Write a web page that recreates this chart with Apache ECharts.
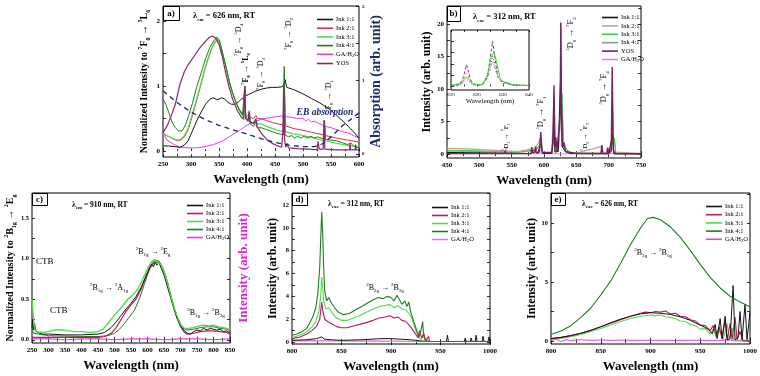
<!DOCTYPE html>
<html>
<head>
<meta charset="utf-8">
<script src="https://cdn.jsdelivr.net/npm/echarts@6/dist/echarts.min.js"></script>
<style>
html, body { margin: 0; padding: 0; background: #fff; }
#main { width: 760px; height: 376px; }
</style>
</head>
<body>
<div id="main"></div>
<script>
// ---- panel a : excitation, lambda_em = 626 nm ----
const aInk11 = [[250,0.08],[260,0.08],[270,0.07],[280,0.06],[288,0.09],[295,0.16],[302,0.3],[310,0.46],[318,0.6],[326,0.72],[334,0.8],[340,0.82],[346,0.79],[350,0.8],[355,0.82],[360,0.8],[366,0.75],[372,0.72],[378,0.72],[384,0.75],[390,0.8],[395,0.83],[396,1.0],[397.5,0.85],[405,0.88],[415,0.92],[425,0.95],[435,0.97],[445,0.98],[455,0.98],[463,0.99],[466,1.03],[468,1.1],[471,0.98],[485,0.94],[500,0.88],[515,0.81],[530,0.74],[545,0.66],[560,0.55],[575,0.43],[590,0.3],[600,0.2]];
const aInk21 = [[250,0.28],[256,0.24],[262,0.22],[268,0.19],[275,0.16],[282,0.17],[288,0.22],[294,0.31],[300,0.47],[306,0.65],[312,0.84],[318,1.03],[324,1.23],[330,1.4],[336,1.55],[342,1.66],[347,1.71],[351,1.67],[355,1.54],[360,1.37],[365,1.19],[370,1.01],[376,0.85],[382,0.71],[388,0.62],[394,0.56],[396,1.0],[397.5,0.57],[402,0.53],[404,0.62],[405.5,0.52],[412,0.5],[416,0.55],[418,0.5],[425,0.5],[435,0.47],[445,0.44],[455,0.42],[465,0.4],[467,0.9],[469,0.39],[482,0.35],[500,0.32],[520,0.28],[537,0.25],[538.5,0.42],[540,0.24],[560,0.2],[580,0.17],[600,0.14]];
const aInk31 = [[250,0.25],[256,0.24],[262,0.22],[268,0.19],[275,0.17],[282,0.18],[288,0.24],[294,0.33],[300,0.5],[306,0.68],[312,0.86],[318,1.05],[324,1.25],[330,1.42],[336,1.56],[342,1.67],[347,1.72],[351,1.68],[355,1.55],[360,1.38],[365,1.2],[370,1.02],[376,0.85],[382,0.7],[388,0.6],[394,0.52],[396,1.0],[397.5,0.52],[402,0.46],[404,0.56],[405.5,0.45],[412,0.43],[416,0.48],[418,0.42],[425,0.42],[435,0.38],[445,0.35],[455,0.32],[465,0.3],[466.5,1.2],[468,0.3],[482,0.27],[500,0.24],[520,0.2],[537,0.16],[538.5,0.4],[540,0.16],[560,0.12],[580,0.09],[600,0.06]];
const aInk41 = [[250,0.8],[255,0.72],[260,0.6],[266,0.45],[272,0.36],[278,0.31],[284,0.31],[290,0.4],[296,0.55],[303,0.75],[310,0.98],[318,1.2],[326,1.42],[334,1.6],[341,1.7],[346,1.75],[350,1.72],[354,1.6],[358,1.45],[363,1.28],[368,1.08],[374,0.9],[380,0.76],[386,0.64],[392,0.56],[394,0.55],[396,1.0],[397.5,0.55],[402,0.46],[404,0.55],[405.5,0.42],[412,0.38],[416,0.45],[418,0.36],[425,0.36],[435,0.33],[445,0.3],[455,0.27],[465,0.25],[466.5,1.3],[468,0.25],[474,0.22],[480,0.24],[485,0.2],[490,0.23],[496,0.2],[502,0.23],[508,0.2],[514,0.23],[520,0.2],[526,0.22],[532,0.2],[537,0.19],[538.5,0.48],[540,0.18],[550,0.17],[560,0.16],[570,0.13],[580,0.1],[585,0.13],[590,0.08],[600,0.05]];
const aGA = [[250,0.29],[257,0.17],[268,0.11],[280,0.06],[295,0.05],[310,0.05],[325,0.07],[340,0.1],[355,0.15],[370,0.23],[385,0.31],[400,0.4],[415,0.46],[430,0.5],[445,0.52],[460,0.54],[470,0.53],[480,0.52],[490,0.5],[500,0.5],[505,0.46],[510,0.49],[515,0.45],[520,0.46],[530,0.42],[540,0.38],[550,0.36],[560,0.33],[570,0.3],[580,0.28],[590,0.24],[600,0.2]];
const aYOS = [[250,0.28],[258,0.4],[265,0.55],[272,0.72],[280,1.02],[288,1.22],[295,1.33],[305,1.45],[315,1.58],[325,1.68],[333,1.75],[338,1.77],[344,1.74],[350,1.64],[356,1.45],[362,1.2],[368,0.98],[375,0.78],[383,0.62],[390,0.52],[394,0.49],[396,0.98],[397.5,0.5],[402,0.46],[404,0.6],[405.5,0.45],[412,0.42],[416,0.5],[418,0.38],[425,0.28],[435,0.18],[445,0.12],[455,0.08],[462,0.06],[464,0.3],[465.5,1.05],[467,0.2],[469,0.06],[472,0.12],[474,0.05],[490,0.04],[510,0.03],[525,0.02],[527,0.15],[529,0.03],[536,0.03],[537.5,0.48],[539,0.03],[560,0.02],[583,0.02],[584,0.12],[585,0.02],[593,0.02],[594,0.1],[595,0.02],[600,0.02]];
const aEB = [[250,0.86],[275,0.7],[300,0.57],[325,0.47],[350,0.39],[375,0.33],[400,0.27],[425,0.21],[450,0.16],[475,0.12],[500,0.1],[520,0.1],[535,0.14],[550,0.23],[570,0.38],[585,0.47],[600,0.56]];

// ---- panel b : emission, lambda_exc = 312 nm ----
const bInk11 = [[450,0.25],[500,0.2],[540,0.15],[560,0.1],[580,0.1],[585,0.6],[590,0.1],[593,0.1],[595,1.5],[598,0.1],[612,0.1],[615.5,4.5],[617,0.3],[622,0.4],[626,13],[628,1.2],[632,0.5],[640,0.1],[700,0.05],[706,3],[708,0.05],[750,0.05]];
const bInk21 = [[450,0.9],[480,0.8],[510,0.65],[540,0.5],[541,0.9],[542,0.5],[560,0.4],[581,0.8],[587,0.9],[595,2.5],[598,0.3],[612,0.3],[615.5,9],[617,1.0],[622,0.5],[625,5],[626,20.4],[627,6],[629,1.0],[632,1.5],[634,0.3],[650,0.15],[689.5,1.2],[691,0.12],[704,0.3],[706,7.7],[708,0.3],[750,0.1]];
const bInk31 = [[450,0.6],[480,0.55],[520,0.45],[560,0.3],[581,0.6],[587,0.7],[595,1.5],[598,0.25],[612,0.25],[615.5,3],[617,0.5],[622,0.5],[626,7],[628,9.3],[630,2],[632,1.2],[640,0.2],[700,0.1],[706,2],[709,2.5],[711,0.1],[750,0.05]];
const bInk41 = [[450,0.45],[480,0.42],[520,0.35],[540,0.3],[541,0.6],[542,0.3],[560,0.25],[581,0.5],[587,0.6],[595,1.3],[598,0.2],[612,0.2],[615.5,2.6],[617,0.4],[622,0.4],[626,6],[628,7],[630,1.8],[632,1],[640,0.15],[700,0.08],[706,1.8],[709,2.2],[711,0.08],[750,0.05]];
const bYOS = [[450,0.08],[530,0.08],[539,0.08],[540,0.5],[541,0.08],[580,0.1],[581,1.1],[582,0.2],[586,0.3],[587,1.2],[588,0.2],[593,0.3],[595,3.4],[597,0.2],[612,0.2],[614,2],[615.5,10.6],[617,1.0],[618.5,2.6],[620,0.4],[623,0.7],[625,6],[626,20.2],[627,8],[628.5,1.0],[631,1.8],[633,0.4],[650,0.1],[652,0.3],[654,0.1],[688,0.1],[689.5,1.4],[691,0.1],[697,0.1],[698.5,1.0],[700,0.1],[704,0.5],[705.5,13.4],[707,0.6],[710,0.1],[750,0.05]];
const bGA = [[450,0.1],[500,0.08],[550,0.06],[600,0.05],[650,0.05],[700,0.05],[750,0.04]];
// inset of b (normalised)
const inYOS = [[610,0.02],[613,0.03],[614.5,0.15],[616,0.48],[617.5,0.15],[619,0.03],[622,0.03],[624,0.2],[625,0.6],[626,1.0],[627,0.6],[628,0.2],[630,0.06],[631,0.08],[633,0.03],[640,0.02]];
const inInk31 = [[610,0.02],[614,0.06],[615,0.15],[616,0.21],[617,0.15],[618.5,0.04],[622,0.04],[624,0.25],[625.5,0.65],[626.5,0.77],[627.5,0.55],[629,0.15],[630.5,0.1],[632,0.08],[634,0.03],[640,0.02]];
const inInk11 = [[610,0.02],[614,0.05],[616,0.16],[618,0.05],[622,0.04],[624,0.2],[626,0.67],[628,0.25],[630,0.1],[632,0.06],[634,0.03],[640,0.02]];
const inInk21 = [[610,0.02],[614,0.08],[616,0.3],[618,0.06],[622,0.04],[624,0.18],[626,0.55],[628,0.2],[630,0.08],[634,0.03],[640,0.02]];

// ---- panel c : excitation, lambda_em = 910 nm ----
const cInk11 = [[250,0.15],[252,0.25],[254,0.12],[258,0.2],[262,0.1],[268,0.09],[280,0.07],[300,0.07],[350,0.06],[400,0.06],[450,0.07],[470,0.09],[490,0.15],[505,0.22],[520,0.3],[535,0.38],[550,0.45],[565,0.53],[580,0.64],[595,0.78],[605,0.88],[612,0.93],[618,0.9],[624,0.96],[628,0.92],[634,0.95],[642,0.88],[650,0.8],[660,0.66],[670,0.52],[680,0.38],[690,0.26],[700,0.17],[710,0.12],[720,0.08],[730,0.07],[740,0.1],[750,0.12],[760,0.11],[770,0.14],[780,0.12],[790,0.14],[800,0.13],[810,0.12],[820,0.13],[830,0.1],[840,0.11],[850,0.08]];
const cInk21 = [[250,0.03],[300,0.03],[400,0.03],[450,0.03],[470,0.04],[490,0.08],[505,0.15],[520,0.25],[535,0.35],[550,0.43],[565,0.5],[580,0.62],[595,0.78],[610,0.9],[620,0.95],[630,0.96],[640,0.92],[650,0.83],[660,0.7],[670,0.55],[680,0.4],[690,0.27],[700,0.17],[710,0.1],[720,0.07],[740,0.08],[760,0.1],[780,0.11],[800,0.11],[820,0.1],[840,0.09],[850,0.07]];
const cInk31 = [[250,0.5],[253,0.35],[256,0.2],[260,0.1],[265,0.08],[280,0.09],[300,0.1],[320,0.12],[340,0.12],[360,0.11],[380,0.1],[400,0.1],[430,0.09],[450,0.1],[465,0.13],[480,0.2],[495,0.28],[510,0.35],[525,0.42],[540,0.5],[555,0.55],[570,0.62],[585,0.74],[600,0.88],[612,0.96],[618,0.94],[622,0.99],[627,0.96],[632,0.98],[642,0.92],[652,0.82],[662,0.68],[672,0.52],[682,0.38],[692,0.27],[702,0.18],[712,0.14],[725,0.14],[740,0.15],[755,0.17],[770,0.18],[785,0.17],[800,0.18],[815,0.16],[830,0.15],[850,0.13]];
const cInk41 = [[250,0.12],[255,0.08],[260,0.06],[300,0.05],[400,0.04],[450,0.04],[480,0.05],[500,0.08],[515,0.13],[530,0.2],[545,0.28],[560,0.36],[575,0.5],[590,0.68],[605,0.86],[615,0.95],[625,0.98],[635,0.97],[645,0.9],[655,0.79],[665,0.64],[675,0.48],[685,0.34],[695,0.22],[705,0.15],[720,0.12],[740,0.13],[760,0.15],[780,0.16],[800,0.16],[820,0.14],[840,0.13],[850,0.11]];
const cGA = [[250,0.01],[300,0.01],[350,0.0],[400,0.01],[450,0.01],[500,0.0],[550,0.01],[600,0.01],[650,0.0],[700,0.01],[750,0.01],[800,0.0],[850,0.01]];

// ---- panel d : NIR emission, lambda_exc = 312 nm ----
const dInk11 = [[800,0.15],[815,0.2],[825,0.3],[830,0.45],[833,0.25],[840,0.2],[850,0.15],[870,0.2],[890,0.3],[900,0.3],[910,0.25],[920,0.2],[925,0.15],[930,0.1],[940,0.05],[956,0.05],[957,0.6],[958,0.05],[974,0.05],[975,0.35],[976,0.05],[980,0.05],[981,0.35],[982,0.05],[985,0.05],[986,0.6],[987,0.05],[992,0.05],[993,0.5],[994,0.05],[998,0.05],[999,0.45],[1000,0.05]];
const dInk21 = [[800,0.3],[808,0.45],[815,0.7],[820,1.0],[825,1.4],[828,2.0],[830,3.5],[831,2.8],[833,2.0],[836,1.8],[840,1.6],[845,1.35],[850,1.25],[856,1.25],[862,1.4],[868,1.55],[875,1.7],[882,1.9],[888,2.1],[894,2.2],[899,2.3],[903,2.1],[907,2.2],[911,1.9],[915,1.8],[918,1.5],[921,1.2],[924,0.8],[927,0.4],[929,1.0],[931,0.3],[933,0.8],[935,0.1],[938,0.5],[939,0.05],[1000,0.05]];
const dInk31 = [[800,0.4],[808,0.6],[815,0.9],[820,1.3],[824,1.8],[827,2.6],[829,4],[830,5.7],[831,4.8],[832,3.6],[834,2.9],[837,3.0],[840,2.6],[845,2.1],[850,1.9],[856,1.9],[862,2.1],[868,2.3],[875,2.6],[882,2.9],[888,3.1],[894,3.2],[899,3.3],[903,3.0],[907,3.2],[911,2.9],[915,2.8],[918,2.5],[921,2.1],[924,1.3],[927,0.6],[930,0.2],[933,0.1],[940,0.05],[1000,0.05]];
const dInk41 = [[800,0.6],[805,0.7],[810,0.9],[815,1.2],[818,1.7],[821,2.2],[824,3.0],[826,4.2],[828,6.5],[829,9],[830,11.4],[831,9.5],[832,6.5],[833,4.5],[835,3.6],[837,3.9],[840,3.4],[843,3.0],[847,2.6],[852,2.4],[858,2.5],[864,2.8],[870,3.1],[876,3.4],[882,3.7],[887,3.9],[892,3.8],[896,4.0],[900,3.9],[903,3.6],[906,4.1],[908,3.8],[911,3.3],[914,3.6],[916,3.1],[918,3.5],[920,2.6],[923,1.8],[926,1.0],[928,0.4],[930,0.9],[932,1.8],[933,0.5],[935,0.1],[940,0.05],[1000,0.05]];
const dGA = [[800,0.1],[820,0.12],[840,0.1],[860,0.08],[880,0.1],[900,0.08],[920,0.06],[940,0.05],[960,0.05],[980,0.06],[1000,0.05]];

// ---- panel e : NIR emission, lambda_exc = 626 nm ----
const eInk11 = [[800,0.2],[810,0.3],[820,0.45],[830,0.65],[840,0.9],[850,1.2],[860,1.55],[870,1.85],[880,2.1],[890,2.3],[900,2.4],[910,2.35],[920,2.25],[930,2.05],[940,1.75],[950,1.35],[958,1.0],[962,0.6],[965,1.4],[967,0.2],[970,1.9],[972,0.2],[975,2.1],[977,0.1],[980,0.2],[983,4.7],[985,0.1],[988,0.3],[990,2.5],[992,0.1],[995,3.1],[997,0.1],[1000,2.4]];
const eInk21 = [[800,0.2],[810,0.3],[820,0.45],[830,0.65],[840,0.9],[850,1.2],[860,1.5],[870,1.8],[880,2.1],[890,2.35],[895,2.45],[900,2.4],[905,2.5],[910,2.45],[915,2.55],[920,2.3],[925,2.35],[930,2.1],[935,2.05],[940,1.8],[945,1.7],[950,1.35],[955,1.3],[960,0.9],[963,1.3],[966,0.5],[969,1.2],[972,0.2],[975,1.8],[977,0.1],[980,1.5],[982,0.1],[985,2.0],[987,0.1],[990,0.8],[993,0],[1000,0]];
const eInk31 = [[800,0.15],[810,0.22],[820,0.35],[830,0.55],[840,0.8],[850,1.05],[860,1.35],[870,1.65],[880,1.9],[890,2.1],[900,2.2],[905,2.15],[910,2.2],[915,2.05],[920,2.0],[925,1.9],[930,1.7],[935,1.65],[940,1.4],[945,1.3],[950,1.0],[955,1.05],[960,0.6],[963,1.0],[966,0.3],[970,0.9],[973,0.1],[977,1.5],[979,0.1],[982,1.1],[984,0],[1000,0]];
const eInk41 = [[800,0.55],[810,0.85],[820,1.3],[830,2.0],[840,2.8],[850,3.9],[860,5.1],[870,6.6],[880,8.2],[890,9.6],[897,10.4],[903,10.5],[910,10.3],[920,9.7],[930,8.8],[940,7.7],[950,6.5],[960,5.4],[970,4.5],[980,3.8],[990,3.3],[1000,2.9]];
const eGA = [[800,0.05],[805,0.15],[810,-0.05],[815,0.1],[820,0.05],[830,0.1],[840,0.05],[850,0.08],[860,0.05],[870,0.07],[880,0.05],[900,0.06],[920,0.05],[940,0.06],[960,0.05],[980,0.06],[1000,0.05]];

const SERIF = '"Liberation Serif", "Times New Roman", serif';

function rich(size, o) {
  o = o || {};
  const col = o.color || '#000';
  const base = {fontFamily: SERIF, fontSize: size, fontWeight: o.weight || 'normal', fontStyle: o.style || 'normal',
    color: col, fill: col, lineHeight: Math.round(size * 1.4)};
  const small = Object.assign({}, base, {fontSize: Math.max(4, Math.round(size * 0.62)), lineHeight: Math.round(size * 0.7)});
  return {t: base, sup: Object.assign({}, small, {verticalAlign: 'top'}), sub: Object.assign({}, small, {verticalAlign: 'bottom'})};
}
function lev(sup, letter, sub) { return '{sup|' + sup + '}{t|' + letter + '}{sub|' + sub + '}'; }
function trans(a, b) { return a + '{t| → }' + b; }

const grid = [
  {left: 163, top: 6, width: 196, height: 151},
  {left: 447, top: 6, width: 194, height: 152},
  {left: 32, top: 193, width: 198, height: 150},
  {left: 292, top: 193, width: 198, height: 151},
  {left: 551, top: 193, width: 199, height: 151},
  {left: 451, top: 30, width: 78, height: 60}
].map(g => Object.assign(g, {show: true, borderColor: '#000', borderWidth: 1, backgroundColor: 'transparent'}));
grid[5].backgroundColor = '#fff';

const tickLine = {color: '#000', width: 0.8};
const plain = v => String(v);
const xAxis = [], yAxis = [];
function addX(gi, min, max, step, o) {
  o = o || {};
  xAxis.push({
    type: 'value', gridIndex: gi, min: min, max: max, interval: step, position: 'bottom',
    axisLine: {show: false}, splitLine: {show: false},
    axisTick: {inside: true, length: o.tl || 3, lineStyle: tickLine},
    minorTick: {show: true, splitNumber: 2, length: 2, lineStyle: tickLine},
    axisLabel: {color: '#000', fontFamily: SERIF, fontWeight: o.lw || 'bold', fontSize: o.fs || 7, margin: o.margin || 4, formatter: plain},
    name: o.name === undefined ? 'Wavelength (nm)' : o.name, nameLocation: 'middle', nameGap: o.gap || 16,
    nameTextStyle: {color: '#000', fontFamily: SERIF, fontWeight: o.nw || 'bold', fontSize: o.nfs || 13}
  });
  xAxis.push({
    type: 'value', gridIndex: gi, min: min, max: max, interval: step, position: 'top',
    axisLine: {show: false}, splitLine: {show: false},
    axisTick: {inside: true, length: o.tl || 3, lineStyle: tickLine},
    minorTick: {show: true, splitNumber: 2, length: 2, lineStyle: tickLine},
    axisLabel: {show: false}
  });
  return xAxis.length - 2;
}
function addY(gi, min, max, labels, ticks, o) {
  o = o || {};
  yAxis.push({
    type: 'value', gridIndex: gi, min: min, max: max, position: o.pos || 'left',
    axisLine: {show: false}, splitLine: {show: false},
    axisTick: {show: true, inside: true, length: 3, customValues: ticks, lineStyle: tickLine},
    axisLabel: labels ? {show: true, customValues: labels, formatter: o.fmt || plain, color: '#000', fontFamily: SERIF,
      fontWeight: 'bold', fontSize: o.fs || 7, margin: o.margin || 3} : {show: false},
    name: o.name || '', nameLocation: 'middle', nameGap: o.gap || 10, nameRotate: 90,
    nameTextStyle: o.nts || {}
  });
  return yAxis.length - 1;
}

// axes
const xa = addX(0, 250, 600, 50);
const xb = addX(1, 450, 750, 50);
const xc = addX(2, 250, 850, 50);
const xd = addX(3, 800, 1000, 50);
const xe = addX(4, 800, 1000, 50);
const xi = addX(5, 610, 640, 10, {fs: 5, lw: 'normal', margin: 2, name: 'Wavelength (nm)', gap: 7, nfs: 7, nw: 'normal', tl: 2});

const yaL = addY(0, -0.09, 2.23, [0, 1, 2], [0, 0.5, 1, 1.5, 2], {
  name: '{t|Normalized Intensity to }' + trans(lev('7', 'F', '0'), lev('5', 'L', '6')), gap: 12,
  nts: {rich: rich(10, {weight: 'bold'})}});
const yaR = addY(0, -0.04, 2.01, [0, 1, 2], [0, 0.5, 1, 1.5, 2], {pos: 'right', fs: 5, margin: 3,
  name: 'Absorption (arb. unit)', gap: 10,
  nts: {color: '#1c2a6e', fontFamily: SERIF, fontWeight: 'bold', fontSize: 14}});
const ybL = addY(1, -0.6, 22.8, [0, 5, 10, 15, 20], [0, 2.5, 5, 7.5, 10, 12.5, 15, 17.5, 20, 22.5], {
  name: 'Intensity (arb. unit)', gap: 12, nts: {color: '#000', fontFamily: SERIF, fontWeight: 'bold', fontSize: 12}});
const ybR = addY(1, -0.6, 22.8, null, [0, 2.5, 5, 7.5, 10, 12.5, 15, 17.5, 20, 22.5], {pos: 'right'});
const ycL = addY(2, -0.04, 1.81, [0, 0.5, 1, 1.5], [0, 0.25, 0.5, 0.75, 1, 1.25, 1.5, 1.75], {
  fmt: v => v.toFixed(1), fs: 6.5,
  name: '{t|Normalized Intensity to }' + trans(lev('2', 'B', '1g'), lev('2', 'E', 'g')), gap: 14,
  nts: {rich: rich(10, {weight: 'bold'})}});
const ycR = addY(2, -0.04, 1.81, null, [0, 0.25, 0.5, 0.75, 1, 1.25, 1.5, 1.75], {pos: 'right',
  name: 'Intensity (arb. unit)', gap: 7, nts: {color: '#e020d8', fontFamily: SERIF, fontWeight: 'bold', fontSize: 13}});
const ydL = addY(3, -0.17, 13.05, [0, 2, 4, 6, 8, 10, 12], [0, 1, 2, 3, 4, 5, 6, 7, 8, 9, 10, 11, 12, 13], {
  fs: 6.5, name: 'Intensity (arb. unit)', gap: 9, nts: {color: '#000', fontFamily: SERIF, fontWeight: 'bold', fontSize: 12}});
const ydR = addY(3, -0.17, 13.05, null, [0, 1, 2, 3, 4, 5, 6, 7, 8, 9, 10, 11, 12, 13], {pos: 'right'});
const yeL = addY(4, -0.26, 12.57, [0, 5, 10], [0, 2.5, 5, 7.5, 10, 12.5], {
  fs: 6.5, name: 'Intensity (arb. unit)', gap: 8, nts: {color: '#000', fontFamily: SERIF, fontWeight: 'bold', fontSize: 12}});
const yeR = addY(4, -0.26, 12.57, null, [0, 2.5, 5, 7.5, 10, 12.5], {pos: 'right'});
const yiL = addY(5, -0.08, 1.25, null, [0, 0.25, 0.5, 0.75, 1]);

// series
const series = [];
function ln(name, data, x, y, color, width, type, z) {
  series.push({
    type: 'line', name: name, data: data, xAxisIndex: x, yAxisIndex: y,
    symbol: 'none', showSymbol: false, animation: false, silent: true,
    lineStyle: {color: color, width: width || 1, type: type || 'solid'},
    itemStyle: {color: color}, z: z || 2
  });
}
const K = '#151515', RED = '#d2364c', LG = '#4fdc4f', DG = '#1f7d1f', MAG = '#e83ce0', PUR = '#852a6e';

ln('a|GA/H2O', aGA, xa, yaL, MAG, 1);
ln('a|Ink 1:1', aInk11, xa, yaL, K, 1);
ln('a|Ink 2:1', aInk21, xa, yaL, RED, 1);
ln('a|Ink 3:1', aInk31, xa, yaL, LG, 1.2);
ln('a|Ink 4:1', aInk41, xa, yaL, DG, 1);
ln('a|YOS', aYOS, xa, yaL, PUR, 1.2);
ln('EB absorption', aEB, xa, yaR, '#1c2a6e', 1.3, [5, 4]);

ln('b|GA/H2O', bGA, xb, ybL, '#e47fdc', 1);
ln('b|Ink 4:1', bInk41, xb, ybL, '#7aa87a', 1);
ln('b|Ink 3:1', bInk31, xb, ybL, '#3ecf3e', 1);
ln('b|Ink 2:1', bInk21, xb, ybL, '#c4a09a', 1.2);
ln('b|Ink 1:1', bInk11, xb, ybL, K, 1);
ln('b|YOS', bYOS, xb, ybL, '#7b1f5e', 1.4);
ln('in YOS', inYOS, xi, yiL, '#8a3a7a', 1, [3, 2], 5);
ln('in Ink 2:1', inInk21, xi, yiL, '#c4a09a', 1, [3, 2], 5);
ln('in Ink 1:1', inInk11, xi, yiL, '#333', 0.8, [1, 2], 5);
ln('in Ink 3:1', inInk31, xi, yiL, '#3ecf3e', 1, 'solid', 5);

const C21 = '#c2185b';
ln('c|GA/H2O', cGA, xc, ycL, MAG, 1.2);
ln('c|Ink 4:1', cInk41, xc, ycL, DG, 1);
ln('c|Ink 2:1', cInk21, xc, ycL, C21, 1.2);
ln('c|Ink 1:1', cInk11, xc, ycL, K, 1);
ln('c|Ink 3:1', cInk31, xc, ycL, LG, 1.4);

ln('d|GA/H2O', dGA, xd, ydL, '#e07ad8', 1.2);
ln('d|Ink 1:1', dInk11, xd, ydL, K, 1);
ln('d|Ink 2:1', dInk21, xd, ydL, C21, 1.1);
ln('d|Ink 3:1', dInk31, xd, ydL, LG, 1.1);
ln('d|Ink 4:1', dInk41, xd, ydL, DG, 1.1);

ln('e|GA/H2O', eGA, xe, yeL, MAG, 1);
ln('e|Ink 3:1', eInk31, xe, yeL, LG, 1.1);
ln('e|Ink 2:1', eInk21, xe, yeL, C21, 1.1);
ln('e|Ink 1:1', eInk11, xe, yeL, K, 1);
ln('e|Ink 4:1', eInk41, xe, yeL, DG, 1.1);

// legends (plain line keys)
const legRich = {
  t: {fontFamily: SERIF, fontSize: 6.5, color: '#000', lineHeight: 8},
  s: {fontFamily: SERIF, fontSize: 4.5, color: '#000', lineHeight: 5, verticalAlign: 'bottom'}
};
function legFmt(n) {
  const s = n.slice(2);
  return s === 'GA/H2O' ? '{t|GA/H}{s|2}{t|O}' : '{t|' + s + '}';
}
function leg(p, names, left, top, gap) {
  return {
    orient: 'vertical', left: left, top: top, icon: 'rect', itemWidth: 16, itemHeight: 1.6, itemGap: gap,
    selectedMode: false, data: names.map(n => p + '|' + n), formatter: legFmt,
    textStyle: {rich: legRich, padding: [0, 0, 0, -2]}
  };
}
const six1 = ['Ink 1:1', 'Ink 2:1', 'Ink 3:1', 'Ink 4:1', 'GA/H2O', 'YOS'];
const six2 = ['Ink 1:1', 'Ink 2:1', 'Ink 3:1', 'Ink 4:1', 'YOS', 'GA/H2O'];
const five = ['Ink 1:1', 'Ink 2:1', 'Ink 3:1', 'Ink 4:1', 'GA/H2O'];
const legend = [
  leg('a', six1, 312, 11, 1.7),
  leg('b', six2, 597, 9, 1.4),
  leg('c', five, 182, 197, 1),
  leg('d', five, 427, 199, 1),
  leg('e', five, 701, 198, 1.2)
];

// annotations
function rot(x, y, text, size, o) {
  return {type: 'text', x: x, y: y, rotation: Math.PI / 2, z: 100,
    style: {text: text, rich: rich(size, o), align: 'center', verticalAlign: 'middle',
      fontFamily: SERIF, fontSize: size, fill: '#000'}};
}
function txt(x, y, text, size, o, align) {
  return {type: 'text', x: x, y: y, z: 100,
    style: {text: text, rich: rich(size, o), align: align || 'left', verticalAlign: 'middle',
      fontFamily: SERIF, fontSize: size, fill: '#000'}};
}
function tag(x, y, w, h, label) {
  return [
    {type: 'rect', z: 90, shape: {x: x + 0.5, y: y + 0.5, width: w, height: h}, style: {fill: '#fff', stroke: '#000', lineWidth: 1}},
    txt(x + w / 2, y + h / 2 + 0.5, '{t|' + label + '}', 9, {weight: 'bold'}, 'center')
  ];
}
const B = {weight: 'bold'};
const graphic = [].concat(
  tag(163, 6, 16, 14, 'a)'), tag(447, 6, 13, 15, 'b)'), tag(32, 193, 15, 12, 'c)'),
  tag(292, 193, 15, 12, 'd)'), tag(551, 193, 14, 12, 'e)'),
  [
    txt(193, 16, '{t|λ}{sub|em}{t| = 626 nm, RT}', 8.5, B),
    txt(473, 17, '{t|λ}{sub|exc}{t| = 312 nm, RT}', 8.5, B),
    txt(72, 205, '{t|λ}{sub|em}{t| = 910 nm, RT}', 7.5, B),
    txt(328, 204, '{t|λ}{sub|exc}{t| = 312 nm, RT}', 7.5, B),
    txt(582, 204, '{t|λ}{sub|exc}{t| = 626 nm, RT}', 7.5, B),

    rot(239, 40, trans(lev('7', 'F', '0'), lev('5', 'D', '4')), 8),
    rot(246, 69, trans(lev('7', 'F', '0'), lev('5', 'L', '6')), 8, B),
    rot(261, 74, trans(lev('7', 'F', '0'), lev('5', 'D', '3')), 8),
    rot(289, 34, trans(lev('7', 'F', '0'), lev('5', 'D', '2')), 8),
    rot(329, 96, trans(lev('7', 'F', '0'), lev('5', 'D', '1')), 8),
    txt(325, 113, '{t|EB absorption}', 9.5, {weight: 'bold', style: 'italic', color: '#1c2a6e'}, 'center'),

    rot(506, 137, trans(lev('5', 'D', '1'), lev('7', 'F', '1')), 7),
    rot(541, 113, trans(lev('5', 'D', '0'), lev('7', 'F', '1')), 8.5),
    rot(571, 34, trans(lev('5', 'D', '0'), lev('7', 'F', '2')), 8.5),
    rot(585, 137, trans(lev('5', 'D', '0'), lev('7', 'F', '3')), 7),
    rot(604, 88, trans(lev('5', 'D', '0'), lev('7', 'F', '4')), 8.5),

    txt(36, 262, '{t|CTB}', 9),
    txt(50, 311, '{t|CTB}', 9),
    txt(109, 288, trans(lev('2', 'B', '1g'), lev('2', 'A', '1g')), 8, null, 'center'),
    txt(153, 252, trans(lev('2', 'B', '1g'), lev('2', 'E', 'g')), 8, null, 'center'),
    txt(206, 313, trans(lev('2', 'B', '1g'), lev('2', 'B', '2g')), 8, null, 'center'),
    txt(385, 288, trans(lev('2', 'B', '2g'), lev('2', 'B', '1g')), 8, null, 'center'),
    txt(653, 253, trans(lev('2', 'B', '2g'), lev('2', 'B', '1g')), 8, null, 'center')
  ]
);

const chart = echarts.init(document.getElementById('main'), null, {renderer: 'canvas'});
chart.setOption({
  animation: false,
  backgroundColor: '#fff',
  grid: grid,
  xAxis: xAxis,
  yAxis: yAxis,
  legend: legend,
  series: series,
  graphic: graphic
});
</script>
</body>
</html>
